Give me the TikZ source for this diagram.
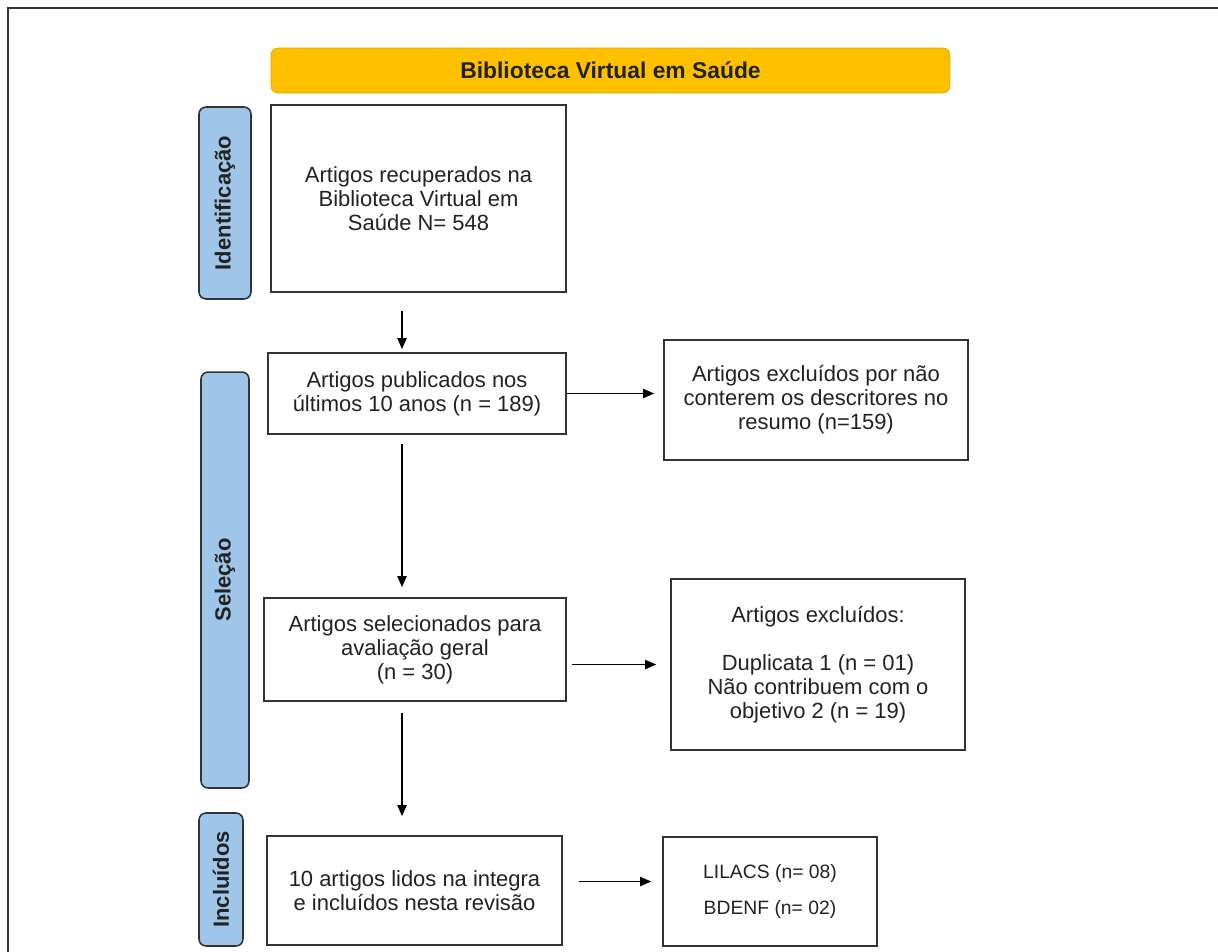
\documentclass[tikz,border=0pt]{standalone}
\usepackage{fontspec}
\setmainfont{Liberation Sans}
\usetikzlibrary{arrows.meta}
\definecolor{bvsyellow}{HTML}{FFC000}
\definecolor{bvsedge}{HTML}{D9A400}
\definecolor{phaseblue}{HTML}{9FC5E8}
\definecolor{edgegray}{HTML}{333333}
\definecolor{txtgray}{HTML}{222222}

\begin{document}
\begin{tikzpicture}[x=0.02cm, y=-0.02cm,
    every node/.style={text=txtgray, font=\fontsize{12.5}{13.6}\selectfont},
    box/.style={draw=edgegray, line width=0.9pt, align=center, inner sep=0pt},
    phase/.style={draw=edgegray, line width=0.9pt, fill=phaseblue, rounded corners=4pt, rotate=90, inner sep=0pt, font=\fontsize{12.5}{13.6}\selectfont\bfseries},
    arr/.style={-{Triangle[length=2.2mm,width=1.8mm]}, line width=1pt}]
    \useasboundingbox (0,0) rectangle (1218,951);
    \clip (0,0) rectangle (1218,951);
    \draw[edgegray, line width=1.1pt] (8,8) rectangle (1240,970);

    \node[draw=bvsedge, fill=bvsyellow, rounded corners=4pt, minimum width=13.58cm, minimum height=0.9cm, inner sep=0pt, font=\fontsize{13}{14}\selectfont\bfseries] (bvs) at (610.5,70.5) {Biblioteca Virtual em Saúde};

    \node[phase, minimum width=3.84cm, minimum height=1.04cm] (identificacao) at (225,203) {Identificação};
    \node[phase, minimum width=8.32cm, minimum height=0.96cm] (selecao) at (225,580) {Seleção};
    \node[phase, minimum width=2.66cm, minimum height=0.88cm] (incluidos) at (221,879.5) {Incluídos};

    \node[box, minimum width=5.9cm, minimum height=3.74cm] (recuperados) at (418.5,198.5) {Artigos recuperados na\\Biblioteca Virtual em\\Saúde N= 548};
    \node[box, minimum width=5.96cm, minimum height=1.62cm] (publicados) at (417,393.5) {Artigos publicados nos\\últimos 10 anos (n = 189)};
    \node[box, minimum width=6.08cm, minimum height=2.4cm] (excl1) at (816,400) {Artigos excluídos por não\\conterem os descritores no\\resumo (n=159)};
    \node[box, minimum width=6.04cm, minimum height=2.06cm] (selecionados) at (415,649.5) {Artigos selecionados para\\avaliação geral\\(n = 30)};
    \node[box, minimum width=5.88cm, minimum height=3.42cm] (excl2) at (818,664.5) {Artigos excluídos:\\[13.6pt]Duplicata 1 (n = 01)\\Não contribuem com o\\objetivo 2 (n = 19)};
    \node[box, minimum width=5.9cm, minimum height=2.18cm] (incl) at (414.5,890.5) {10 artigos lidos na integra\\e incluídos nesta revisão};
    \node[box, minimum width=4.28cm, minimum height=2.18cm, font=\fontsize{11}{12}\selectfont] (bases) at (770,891.5) {LILACS (n= 08)\\[9pt]BDENF (n= 02)};

    \coordinate (spine) at (402,0);
    \draw[arr, shorten <=0.36cm, shorten >=0.06cm] (spine |- recuperados.south) -- (spine |- publicados.north);
    \draw[arr, shorten <=0.18cm, shorten >=0.2cm] (spine |- publicados.south) -- (spine |- selecionados.north);
    \draw[arr, shorten <=0.22cm, shorten >=0.38cm] (spine |- selecionados.south) -- (spine |- incl.north);

    \draw[arr, shorten >=0.18cm] (publicados.east) -- (publicados.east -| excl1.west);
    \draw[arr, shorten <=0.1cm, shorten >=0.28cm] (excl2.west -| selecionados.east) -- (excl2.west);
    \draw[arr, shorten <=0.32cm, shorten >=0.22cm] ([yshift=0.18cm]incl.east) -- ([yshift=0.18cm]incl.east -| bases.west);
\end{tikzpicture}
\end{document}
